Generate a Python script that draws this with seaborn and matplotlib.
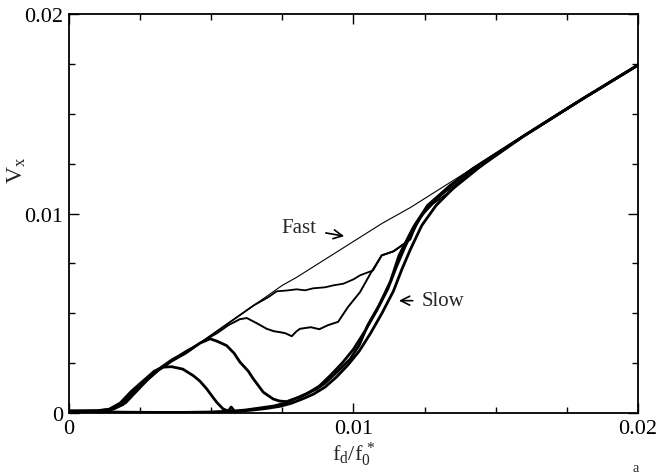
import numpy as np
import pandas as pd
import matplotlib
matplotlib.use("Agg")
import matplotlib.pyplot as plt
import seaborn as sns
from matplotlib.ticker import MultipleLocator, FixedLocator, FixedFormatter

# ---------------- data ----------------
f_fast = [0, 0.001, 0.0014, 0.0018, 0.0022, 0.0026, 0.0031, 0.0036, 0.0041, 0.0046, 0.0050,
          0.0055, 0.0060, 0.0065, 0.0070, 0.0075, 0.0080, 0.0090, 0.0100, 0.0110, 0.0120,
          0.0130, 0.0140, 0.0160, 0.0180, 0.0200]
v_fast = [0.00005, 0.00007, 0.00015, 0.0004, 0.0010, 0.0016, 0.0022, 0.0027, 0.0031, 0.0035, 0.0039,
          0.0044, 0.0049, 0.0054, 0.0059, 0.0064, 0.0068, 0.0077, 0.0086, 0.0095, 0.0103,
          0.0112, 0.0121, 0.0139, 0.0157, 0.01744]

f_a = [0, 0.001, 0.0015, 0.0019, 0.0023, 0.0027, 0.0031, 0.0036, 0.0041, 0.0046, 0.0050, 0.0055,
       0.0060, 0.0065, 0.0070, 0.0073, 0.00765, 0.0080, 0.0083, 0.00858, 0.0090, 0.0093, 0.00964,
       0.0100, 0.01023, 0.01069, 0.01099, 0.0114, 0.0120, 0.01222, 0.01257, 0.01316, 0.0140,
       0.0145, 0.0160, 0.0180, 0.0200]
v_a = [0.0001, 0.0001, 0.00015, 0.0004, 0.0010, 0.0016, 0.0021, 0.0026, 0.0031, 0.0035, 0.0039, 0.0044,
       0.0049, 0.0054, 0.0058, 0.0061, 0.00614, 0.0062, 0.00615, 0.00625, 0.0063, 0.0064, 0.00648,
       0.0067, 0.0069, 0.00715, 0.0079, 0.0081, 0.0087, 0.0095, 0.0103, 0.0110, 0.0119,
       0.0125, 0.0139, 0.0157, 0.01744]

f_b = [0, 0.001, 0.0016, 0.0020, 0.0024, 0.0028, 0.0032, 0.0037, 0.0042, 0.0047, 0.0052, 0.0056,
       0.0060, 0.00625, 0.0066, 0.00695, 0.0072, 0.00742, 0.0076, 0.00783, 0.0080, 0.00812, 0.0085,
       0.0088, 0.0091, 0.00946, 0.0098, 0.01023, 0.0106, 0.01099, 0.0114, 0.0118, 0.0121, 0.0124,
       0.0128, 0.0133, 0.0140, 0.0146, 0.0160, 0.0180, 0.0200]
v_b = [0.0001, 0.0001, 0.0002, 0.0005, 0.0011, 0.0017, 0.0022, 0.0027, 0.0031, 0.0036, 0.0040, 0.0044,
       0.0047, 0.00476, 0.0045, 0.00422, 0.0041, 0.00405, 0.0040, 0.00385, 0.0041, 0.00422, 0.0043,
       0.0042, 0.0044, 0.00457, 0.0053, 0.00606, 0.0070, 0.0079, 0.0081, 0.0085, 0.0091, 0.0099,
       0.0105, 0.0110, 0.0118, 0.0125, 0.0139, 0.0157, 0.01744]

f_c = [0, 0.001, 0.0015, 0.0019, 0.0023, 0.0027, 0.0031, 0.0036, 0.0041, 0.0046, 0.00496, 0.0052,
       0.00554, 0.0058, 0.00601, 0.0063, 0.00648, 0.00683, 0.00718, 0.0074, 0.00765, 0.0079,
       0.00812, 0.0084, 0.0087, 0.0090, 0.00929, 0.0096, 0.00988, 0.0102, 0.0105, 0.0109, 0.0113,
       0.0116, 0.0121, 0.0126, 0.0134, 0.0142, 0.0160, 0.0180, 0.0200]
v_c = [0.0001, 0.00012, 0.0002, 0.0005, 0.0011, 0.0016, 0.0021, 0.0026, 0.0030, 0.0035, 0.00372, 0.0036,
       0.00338, 0.0030, 0.00255, 0.0021, 0.00171, 0.00104, 0.0007, 0.0006, 0.00057, 0.0007,
       0.00079, 0.0010, 0.0012, 0.0015, 0.00188, 0.0023, 0.0027, 0.0034, 0.0044, 0.0054, 0.0066,
       0.0079, 0.0093, 0.0104, 0.0114, 0.01225, 0.0139, 0.0157, 0.01744]

f_g = [0, 0.001, 0.0014, 0.0018, 0.0022, 0.0026, 0.0030, 0.0033, 0.00361, 0.0040, 0.00437, 0.0046,
       0.00484, 0.0050, 0.00519, 0.00542, 0.00560, 0.00570, 0.00580]
v_g = [0.0001, 0.0001, 0.00018, 0.0005, 0.0011, 0.0016, 0.0021, 0.0023, 0.00232, 0.0022, 0.00187, 0.0016,
       0.00121, 0.0009, 0.00054, 0.0002, 0.0001, 0.0003, 0.00012]

f_d = [0, 0.001, 0.002, 0.003, 0.004, 0.005, 0.0058, 0.0062, 0.0067, 0.0072, 0.0076, 0.0080, 0.0084,
       0.0088, 0.0092, 0.0096, 0.0100, 0.0104, 0.0108, 0.0112, 0.0115, 0.0118, 0.0122, 0.0127,
       0.0134, 0.0142, 0.0160, 0.0180, 0.0200]
v_d = [0.00008, 0.00006, 0.00004, 0.00003, 0.00003, 0.00005, 0.0001, 0.00015, 0.00025, 0.00035, 0.0005,
       0.00075, 0.0010, 0.00135, 0.0019, 0.0025, 0.0032, 0.0041, 0.0051, 0.0062, 0.0073, 0.0083,
       0.0095, 0.0105, 0.0114, 0.01225, 0.0139, 0.0157, 0.01744]

f_e = [0, 0.001, 0.002, 0.003, 0.004, 0.005, 0.0059, 0.0064, 0.0069, 0.0074, 0.0078, 0.0082, 0.0086,
       0.0090, 0.0094, 0.0098, 0.0102, 0.0106, 0.0110, 0.0114, 0.0117, 0.0120, 0.0124, 0.0129,
       0.0136, 0.0143, 0.0160, 0.0180, 0.0200]
v_e = [0.00002, 0.00002, 0.00001, 0.00001, 0.00002, 0.00003, 0.00008, 0.00014, 0.00022, 0.00033, 0.00048,
       0.0007, 0.00095, 0.0013, 0.0018, 0.0024, 0.0031, 0.0040, 0.0050, 0.0061, 0.0072, 0.0082,
       0.0094, 0.0104, 0.0114, 0.0122, 0.0139, 0.0157, 0.01744]

x_ticks = [0, 0.01, 0.02]
x_tick_labels = ["0", "0.01", "0.02"]
y_ticks = [0, 0.01, 0.02]
y_tick_labels = ["0", "0.01", "0.02"]

# ---------------- style ----------------
sns.set_theme(style="ticks")
plt.rcParams["font.family"] = ["Liberation Serif", "DejaVu Serif"]
plt.rcParams["mathtext.fontset"] = "custom"
plt.rcParams["mathtext.rm"] = "Liberation Serif"
plt.rcParams["mathtext.it"] = "Liberation Serif"

fig = plt.figure(figsize=(6.6, 4.77), dpi=100)
ax = fig.add_axes([69 / 660, 1 - 414 / 477, (638 - 69) / 660, (414 - 15) / 477])

curves = [
    (f_d, v_d, 2.0),
    (f_e, v_e, 2.0),
    (f_g, v_g, 2.0),
    (f_c, v_c, 2.0),
    (f_b, v_b, 1.4),
    (f_a, v_a, 1.3),
    (f_fast, v_fast, 0.8),
]
for fx, vy, lw in curves:
    df = pd.DataFrame({"f": fx, "v": vy})
    sns.lineplot(data=df, x="f", y="v", ax=ax, color="black", linewidth=lw,
                 estimator=None, sort=False)

ax.set_xlim(0, 0.02)
ax.set_ylim(0, 0.02)
ax.xaxis.set_major_locator(FixedLocator(x_ticks))
ax.xaxis.set_major_formatter(FixedFormatter(x_tick_labels))
ax.yaxis.set_major_locator(FixedLocator(y_ticks))
ax.yaxis.set_major_formatter(FixedFormatter(y_tick_labels))
ax.xaxis.set_minor_locator(MultipleLocator(0.0025))
ax.yaxis.set_minor_locator(MultipleLocator(0.0025))
ax.tick_params(which="both", direction="in", top=True, right=True, color="black", width=1.0)
ax.tick_params(which="major", length=7, labelsize=16, pad=4, labelcolor="black")
ax.tick_params(which="minor", length=4)
for s in ax.spines.values():
    s.set_linewidth(1.3)
    s.set_color("black")

ax.set_xlabel(r"$\mathrm{f_d/f_0^{\,*}}$", fontsize=16)
ax.xaxis.set_label_coords(0.5, -0.065)
ax.set_ylabel("")
fig.text(17 / 660, 1 - 170 / 477, r"$\mathrm{V_x}$", rotation=90, fontsize=17,
         ha="center", va="center")

ax.annotate("", xy=(0.00977, 0.00884), xytext=(0.00893, 0.00905),
            arrowprops=dict(arrowstyle="->", color="black", lw=1.2, mutation_scale=16))
ax.text(0.00808, 0.0093, "Fast", fontsize=15, ha="center", va="center")
ax.annotate("", xy=(0.01150, 0.00563), xytext=(0.01218, 0.00563),
            arrowprops=dict(arrowstyle="->", color="black", lw=1.2, mutation_scale=16))
ax.text(0.01241, 0.00565, "Slow", fontsize=15, ha="left", va="center")

fig.text(636 / 660, 0.004, "a", fontsize=10, ha="center", va="bottom")

fig.savefig("out.png", dpi=100)
